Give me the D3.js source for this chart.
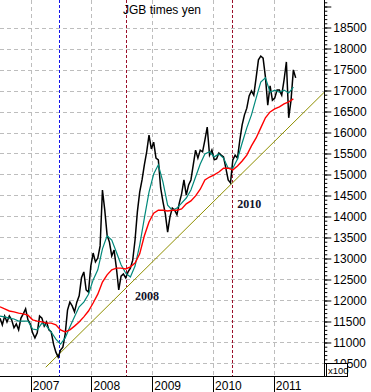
<!DOCTYPE html>
<html>
<head>
<meta charset="utf-8">
<script src="https://cdn.jsdelivr.net/npm/d3@7"></script>
<style>
  body { margin: 0; background: #fff; }
  svg { display: block; font-family: Arial, "Liberation Sans", sans-serif; }
</style>
</head>
<body>
<svg class="chart"></svg>
<script>
// JGB futures x USDJPY, two-weekly closes from 2006-06-30
var priceStart = "2006-06-30";
var priceValues = [
    11580,11420,11630,11490,11630,11540,11350,11440,11300,11580,
    11680,11800,11540,11440,11230,11110,11230,11630,11580,11390,
    11490,11300,11250,10960,10770,10650,10820,10890,11200,11770,
    11960,11870,11730,11960,12110,12540,12680,12250,12200,12820,
    13130,12920,13010,13300,14630,14150,13560,13390,13060,13200,
    12770,12250,12580,12630,12540,12680,12770,12960,13440,14110,
    14580,14870,15230,15540,15940,15610,15770,15390,15350,14680,
    14350,14060,13630,13990,14200,14150,14040,14320,14540,14870,
    14510,14750,14870,15230,15580,15390,15580,15540,15820,16130,
    15460,15580,15350,15370,15510,15460,15420,15150,14870,14800,
    15350,15460,15390,15820,16180,16420,16580,16870,16990,16890,
    17300,17730,17820,17770,17320,16650,17110,16770,16820,17010,
    17010,16890,17250,17680,16350,16770,17490,17300
];

// moving averages, read every four weeks
var avgStart = "2006-06-30";
var fastAvg = [
    11630,11610,11580,11560,11510,11510,11510,11320,11300,11460,
    11390,11250,11080,10960,11110,11370,11610,11850,11960,12150,
    12490,12730,13230,13540,13440,13150,12850,12650,12560,12820,
    13320,13960,14580,15010,15230,14820,14270,14150,14200,14320,
    14440,14630,14940,15250,15490,15540,15420,15490,15390,15150,
    15150,15370,15750,16110,16420,16820,17200,17300,16960,17010,
    16960,17010,16940,17080
];
var slowAvg = [
    11850,11800,11750,11730,11700,11680,11650,11540,11510,11490,
    11460,11460,11420,11300,11250,11300,11390,11490,11610,11750,
    11940,12150,12440,12610,12730,12770,12770,12750,12800,12890,
    13110,13540,13870,14080,14150,14150,14130,14150,14150,14180,
    14300,14370,14490,14650,14870,14940,14990,15060,15150,15150,
    15110,15200,15320,15460,15680,15870,16110,16350,16490,16560,
    16610,16680,16730,16800
];

var trendDates = ["2007-04-01", "2011-11-01"];
var trendValues = [10410, 16960];

var blueMarks = ["2007-06-21"];
var redMarks = ["2008-07-29", "2010-04-27"];

var yearTicks = ["2007-01-01", "2008-01-01", "2009-01-01", "2010-01-01", "2011-01-01"];
var yearLabels = ["2007", "2008", "2009", "2010", "2011"];
var valueLabels = [10500, 11000, 11500, 12000, 12500, 13000, 13500, 14000,
                   14500, 15000, 15500, 16000, 16500, 17000, 17500, 18000, 18500];

var noteTexts = ["2008", "2010"];
var noteDates = ["2008-09-19", "2010-05-26"];
var noteValues = [12010, 14200];

function show() {
    'use strict';

    var totalW = 371, totalH = 392,
        width = 324.3, height = 376;

    var parse = d3.timeParse("%Y-%m-%d");

    var svg = d3.select(".chart")
        .attr("width", totalW)
        .attr("height", totalH);

    var x = d3.scaleTime()
        .domain([parse("2006-06-30"), parse("2011-11-01")])
        .range([0, width]);

    var y = d3.scaleLinear()
        .domain([10202, 19155])
        .range([height, 0]);

    var price = priceValues.map(function (v, i) {
        return { date: d3.timeDay.offset(parse(priceStart), 14 * i), value: v };
    });
    var fast = fastAvg.map(function (v, i) {
        return { date: d3.timeDay.offset(parse(avgStart), 28 * i), value: v };
    });
    var slow = slowAvg.map(function (v, i) {
        return { date: d3.timeDay.offset(parse(avgStart), 28 * i), value: v };
    });

    var snap = v => Math.round(v) + 0.5;

    // grid
    var grid = svg.append("g")
        .attr("stroke", "#bdbdbd")
        .attr("stroke-dasharray", "4,3")
        .attr("shape-rendering", "crispEdges");

    grid.selectAll("line.hgrid").data(valueLabels)
        .enter().append("line")
        .attr("class", "hgrid")
        .attr("x1", 0).attr("x2", width)
        .attr("y1", d => snap(y(d)))
        .attr("y2", d => snap(y(d)));

    grid.selectAll("line.vgrid").data(yearTicks)
        .enter().append("line")
        .attr("class", "vgrid")
        .attr("x1", d => snap(x(parse(d))))
        .attr("x2", d => snap(x(parse(d))))
        .attr("y1", 0).attr("y2", height);

    // event markers
    svg.append("g").selectAll("line.blueMark").data(blueMarks)
        .enter().append("line")
        .attr("class", "blueMark")
        .attr("x1", d => snap(x(parse(d))))
        .attr("x2", d => snap(x(parse(d))))
        .attr("y1", 0).attr("y2", height)
        .style("stroke", "#1414e6")
        .attr("stroke-dasharray", "3,2")
        .attr("shape-rendering", "crispEdges");

    svg.append("g").selectAll("line.redMark").data(redMarks)
        .enter().append("line")
        .attr("class", "redMark")
        .attr("x1", d => snap(x(parse(d))))
        .attr("x2", d => snap(x(parse(d))))
        .attr("y1", 0).attr("y2", height)
        .style("stroke", "#9a0f2a")
        .attr("stroke-dasharray", "3,2")
        .attr("shape-rendering", "crispEdges");

    // trend line
    svg.append("line")
        .attr("x1", x(parse(trendDates[0]))).attr("y1", y(trendValues[0]))
        .attr("x2", x(parse(trendDates[1]))).attr("y2", y(trendValues[1]))
        .attr("stroke", "#8f8f00")
        .attr("stroke-width", 1);

    var line = d3.line()
        .x(d => x(d.date))
        .y(d => y(d.value));

    svg.append("path").datum(price)
        .attr("d", line)
        .attr("fill", "none")
        .attr("stroke", "#000")
        .attr("stroke-width", 1.5);

    svg.append("path").datum(fast)
        .attr("d", line)
        .attr("fill", "none")
        .attr("stroke", "#00897b")
        .attr("stroke-width", 1.2);

    svg.append("path").datum(slow)
        .attr("d", line)
        .attr("fill", "none")
        .attr("stroke", "#ff0000")
        .attr("stroke-width", 1.4);

    // right axis: minor ticks every 100, major every 500
    var minor = d3.axisRight(y)
        .tickValues(d3.range(10300, 19101, 100))
        .tickSize(3)
        .tickFormat("");
    svg.append("g")
        .attr("transform", "translate(" + width + ",0)")
        .call(minor)
        .call(g => g.select(".domain").remove());

    var major = d3.axisRight(y)
        .tickValues(valueLabels.concat([19000]))
        .tickSize(7)
        .tickPadding(2)
        .tickFormat(d => d > 18500 ? "" : d);
    svg.append("g")
        .attr("transform", "translate(" + width + ",0)")
        .call(major)
        .call(g => g.select(".domain").remove())
        .call(g => g.selectAll("text")
            .attr("font-size", "12px")
            .attr("font-family", "Arial, 'Liberation Sans', sans-serif")
            .attr("fill", "#000"));

    // axis lines
    svg.append("line")
        .attr("x1", snap(width)).attr("x2", snap(width))
        .attr("y1", 0).attr("y2", height + 0.5)
        .attr("stroke", "#000");
    svg.append("line")
        .attr("x1", 0).attr("x2", Math.round(width) + 1)
        .attr("y1", height + 0.5).attr("y2", height + 0.5)
        .attr("stroke", "#000");

    // bottom axis: year ticks with labels to the right
    var years = svg.append("g");
    years.selectAll("line").data(yearTicks)
        .enter().append("line")
        .attr("x1", d => snap(x(parse(d))))
        .attr("x2", d => snap(x(parse(d))))
        .attr("y1", height).attr("y2", totalH)
        .attr("stroke", "#000");
    years.selectAll("text").data(yearTicks)
        .enter().append("text")
        .attr("x", d => x(parse(d)) + 2)
        .attr("y", 389.5)
        .attr("font-size", "12px")
        .attr("fill", "#000")
        .text((d, i) => yearLabels[i]);

    // x100 box
    svg.append("rect")
        .attr("x", snap(width)).attr("y", 363.5)
        .attr("width", 23).attr("height", 13)
        .attr("fill", "#fff")
        .attr("stroke", "#000");
    svg.append("line")
        .attr("x1", Math.round(width) + 2.5).attr("x2", Math.round(width) + 2.5)
        .attr("y1", 363.5).attr("y2", height)
        .attr("stroke", "#000");
    svg.append("text")
        .attr("x", Math.round(width) + 4).attr("y", 374)
        .attr("font-size", "9.5px")
        .attr("fill", "#000")
        .text("x100");

    // title and notes
    svg.append("text")
        .attr("x", 162).attr("y", 14)
        .attr("text-anchor", "middle")
        .attr("font-size", "12px")
        .attr("fill", "#000")
        .text("JGB times yen");

    svg.selectAll("text.note").data(noteTexts)
        .enter().append("text")
        .attr("class", "note")
        .attr("x", (d, i) => x(parse(noteDates[i])))
        .attr("y", (d, i) => y(noteValues[i]))
        .attr("font-family", "'Liberation Serif', 'Times New Roman', serif")
        .attr("font-weight", "bold")
        .attr("font-size", "12px")
        .attr("fill", "#10102a")
        .text(d => d);
}

show();
</script>
</body>
</html>
